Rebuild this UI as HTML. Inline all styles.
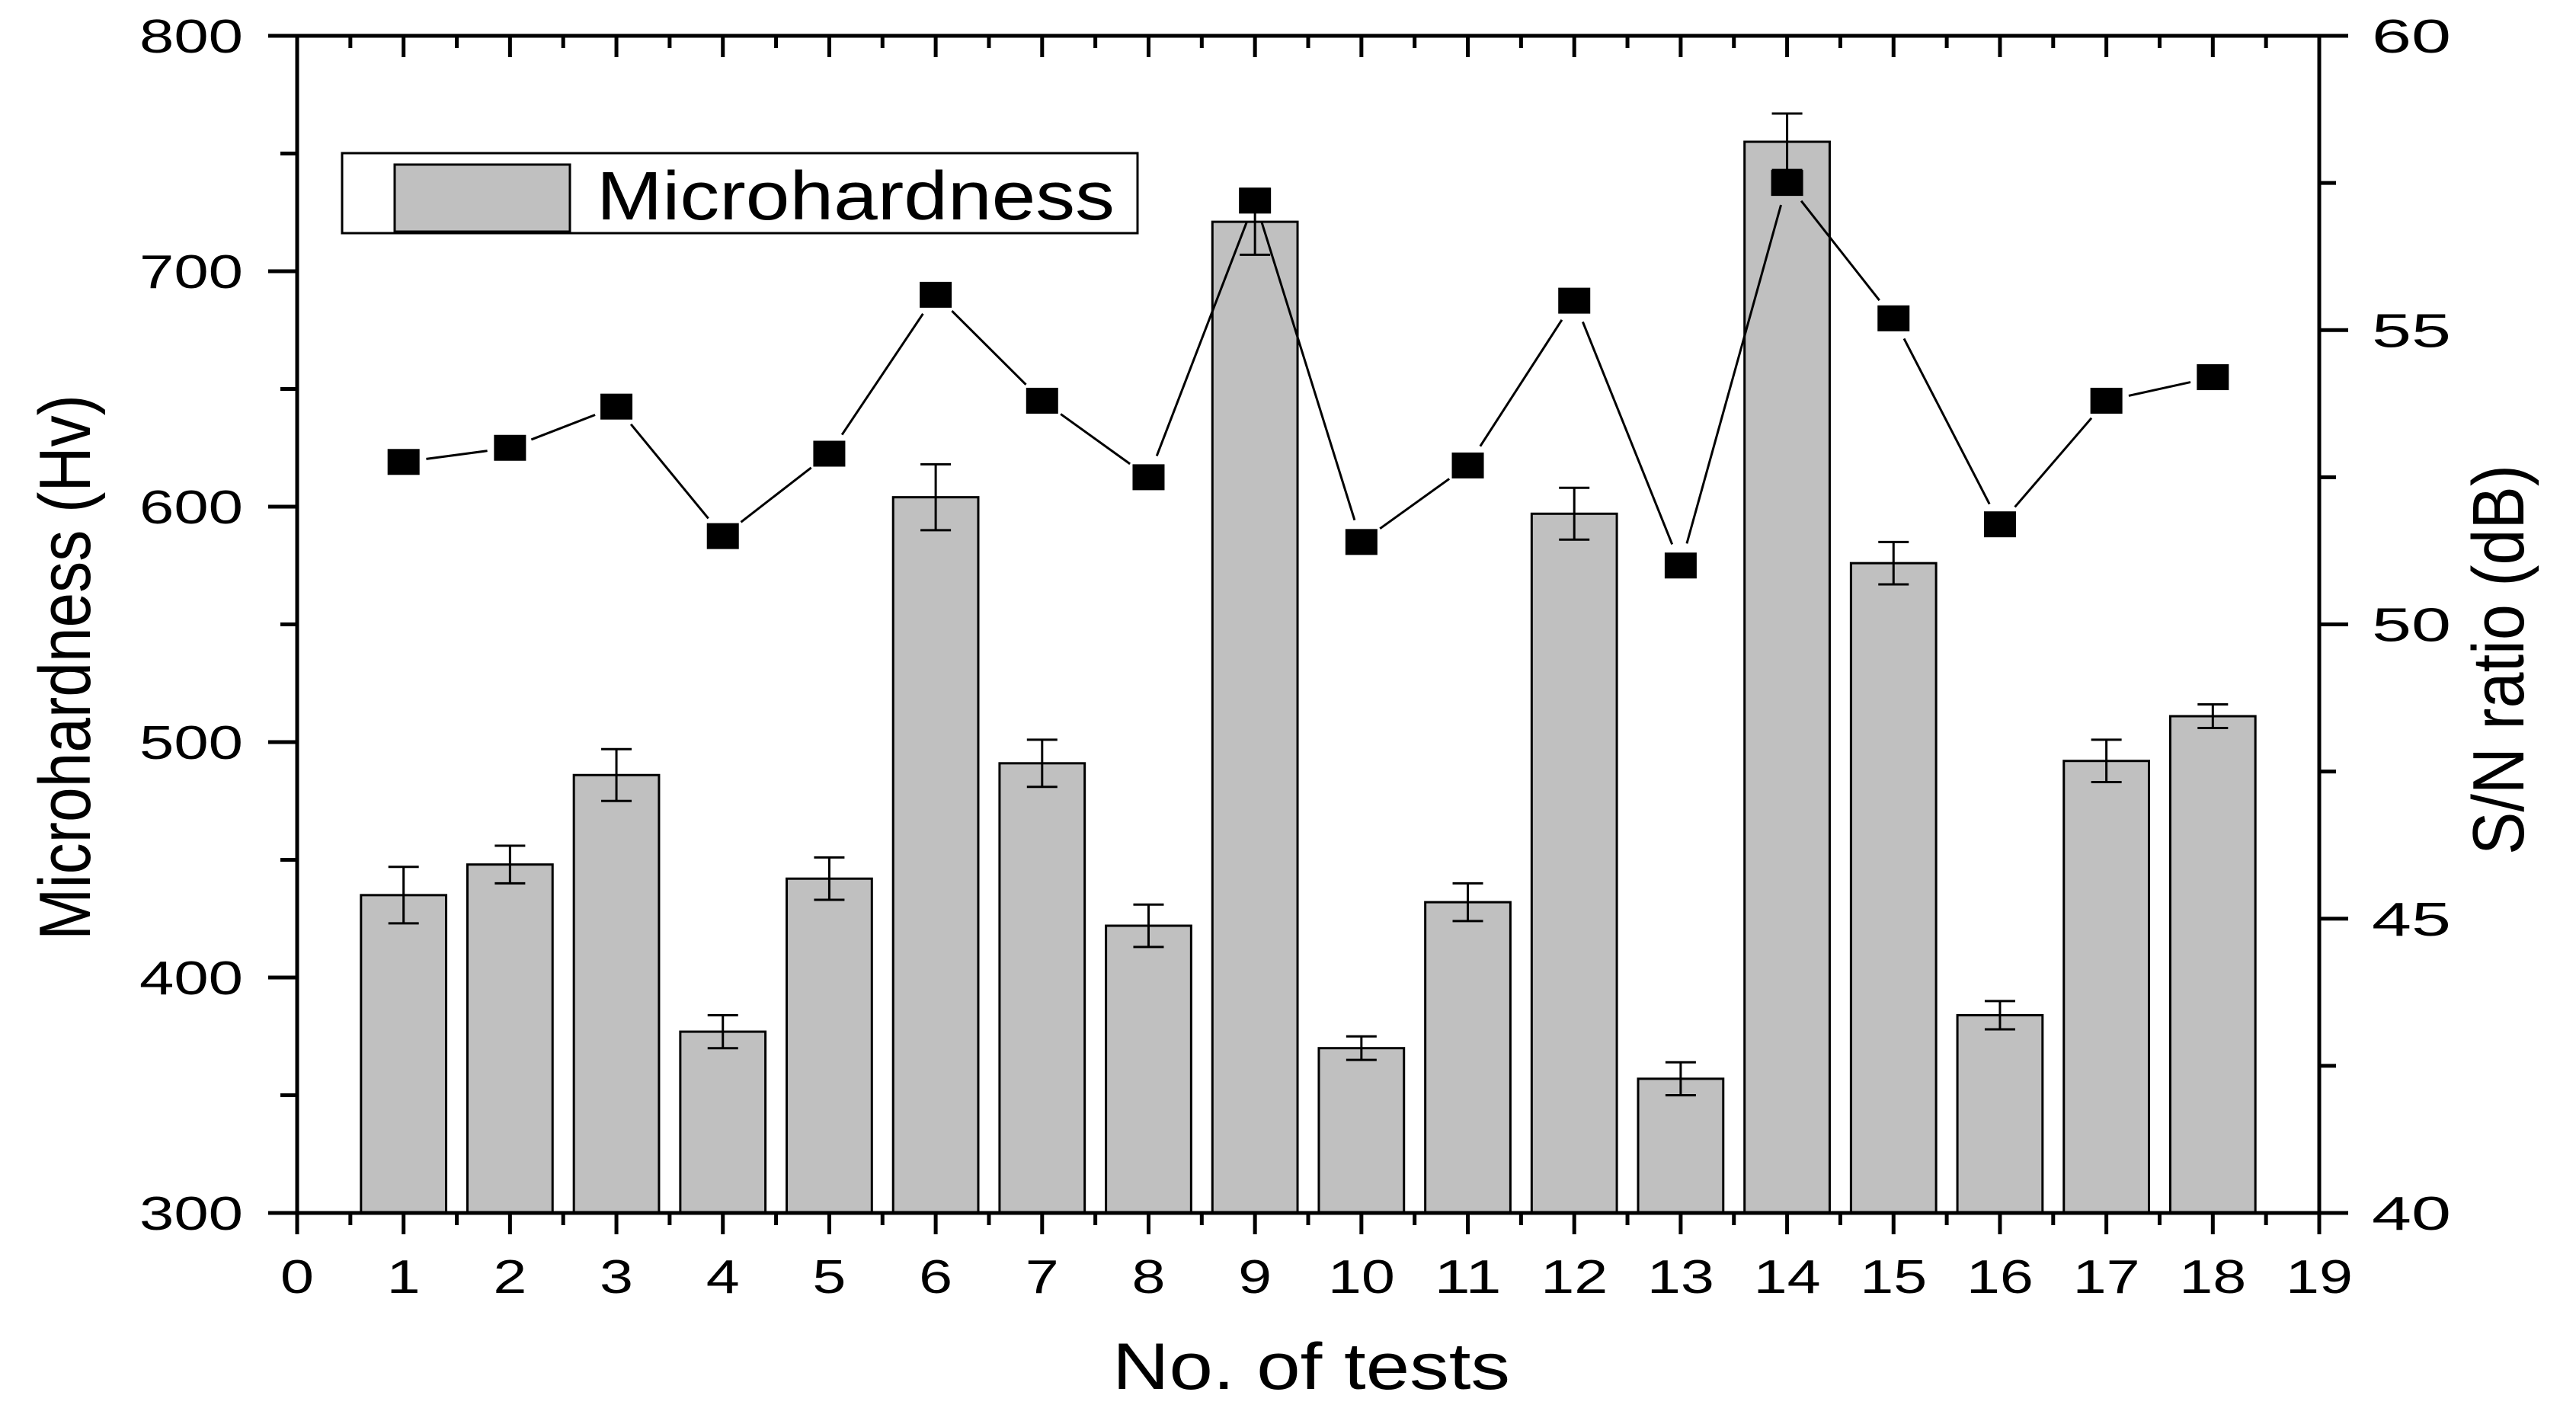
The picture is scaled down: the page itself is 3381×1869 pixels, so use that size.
<!DOCTYPE html>
<html><head><meta charset="utf-8"><style>
html,body{margin:0;padding:0;background:#fff;}
svg{display:block;font-family:"Liberation Sans",Arial,sans-serif;}
</style></head><body>
<svg id="chart" width="3381" height="1869" viewBox="0 0 3381 1869" xmlns="http://www.w3.org/2000/svg">
<g id="bars"></g>
<g id="errs"></g>
<g id="line"></g>
<g id="axes"></g>
<g>
<rect x="449" y="201" width="1044" height="105" fill="#fff" stroke="#000" stroke-width="3"/>
<rect x="518" y="216" width="230" height="88" fill="#c0c0c0" stroke="#000" stroke-width="3"/>
<text x="783" y="288" font-size="90" textLength="680" lengthAdjust="spacingAndGlyphs">Microhardness</text>
</g>
<text x="1460" y="1823" font-size="86" textLength="522" lengthAdjust="spacingAndGlyphs">No. of tests</text>
<text transform="translate(118,876) rotate(-90)" font-size="96" text-anchor="middle" textLength="716" lengthAdjust="spacingAndGlyphs">Microhardness (Hv)</text>
<text transform="translate(3312,866) rotate(-90)" font-size="96" text-anchor="middle" textLength="512" lengthAdjust="spacingAndGlyphs">S/N ratio (dB)</text>
</svg>
<script>
const tests=[1,2,3,4,5,6,7,8,9,10,11,12,13,14,15,16,17,18];
const hardness=[435,448,486,377,442,604,491,422,721,370,432,597,357,755,576,384,492,511];
const hardErr=[12,8,11,7,9,14,10,9,14,5,8,11,7,12,9,6,9,5];
const snRatio=[52.76,53.0,53.7,51.5,52.9,55.6,53.8,52.5,57.2,51.4,52.7,55.5,51.0,57.5,55.2,51.7,53.8,54.2];
const xTicks=[0,1,2,3,4,5,6,7,8,9,10,11,12,13,14,15,16,17,18,19];
const yTicks=[300,400,500,600,700,800];
const y2Ticks=[40,45,50,55,60];
const NS="http://www.w3.org/2000/svg";
const X0=390,X1=3044,YT=47,YB=1592;
const xs=v=>X0+(v-0)/19*(X1-X0);
const ys=v=>YB-(v-300)/500*(YB-YT);
const ys2=v=>YB-(v-40)/20*(YB-YT);
function mk(tag,attrs,parent){const e=document.createElementNS(NS,tag);for(const k in attrs)e.setAttribute(k,attrs[k]);parent.appendChild(e);return e;}
const gb=document.getElementById('bars'),ge=document.getElementById('errs'),gl=document.getElementById('line'),ga=document.getElementById('axes');
const bw=(X1-X0)/19*0.8;
tests.forEach((t,i)=>{
 const r=mk('rect',{x:xs(t)-bw/2,y:ys(hardness[i]),width:bw,height:YB-ys(hardness[i]),fill:'#c0c0c0',stroke:'#000','stroke-width':3},gb);
 
 
 const cx=xs(t),yh=ys(hardness[i]+hardErr[i]),yl=ys(hardness[i]-hardErr[i]);
 const p=mk('path',{d:`M${cx-20},${yh}H${cx+20}M${cx},${yh}V${yl}M${cx-20},${yl}H${cx+20}`,stroke:'#000','stroke-width':3,fill:'none'},ge);
 
 
});
for(let i=0;i<tests.length-1;i++){
 const x1=xs(tests[i]),y1=ys2(snRatio[i]),x2=xs(tests[i+1]),y2=ys2(snRatio[i+1]);
 const dx=x2-x1,dy=y2-y1,L=Math.hypot(dx,dy),g=30;
 if(L>2*g){const l=mk('line',{x1:x1+dx/L*g,y1:y1+dy/L*g,x2:x2-dx/L*g,y2:y2-dy/L*g,stroke:'#000','stroke-width':3},gl);
 
 }
}
tests.forEach((t,i)=>{
 const m=mk('rect',{x:xs(t)-21,y:ys2(snRatio[i])-17,width:42,height:34,fill:'#000'},gl);
 
 
});
const fr=mk('rect',{x:X0,y:YT,width:X1-X0,height:YB-YT,fill:'none',stroke:'#000','stroke-width':5},ga);


let d='';
for(let v=0;v<=19;v+=0.5){const x=xs(v);const maj=Number.isInteger(v);d+=`M${x},${YB}v${maj?28:16}M${x},${YT}v${maj?28:16}`;}
for(let v=300;v<=800;v+=50){const y=ys(v);d+=`M${X0},${y}h${v%100===0?-38:-22}`;}
for(let v=40;v<=60;v+=2.5){const y=ys2(v);d+=`M${X1},${y}h${v%5===0?38:22}`;}
const tk=mk('path',{d:d,stroke:'#000','stroke-width':5,fill:'none'},ga);


xTicks.forEach(v=>{const s=String(v);const t=mk('text',{x:xs(v),y:1697,'font-size':62,'text-anchor':'middle',textLength:s.length*44,lengthAdjust:'spacingAndGlyphs'},ga);t.textContent=s;
 
 });
yTicks.forEach(v=>{const t=mk('text',{x:319,y:ys(v)+22,'font-size':62,'text-anchor':'end',textLength:136,lengthAdjust:'spacingAndGlyphs'},ga);t.textContent=v;
 
 });
y2Ticks.forEach(v=>{const t=mk('text',{x:3113,y:ys2(v)+22,'font-size':62,textLength:104,lengthAdjust:'spacingAndGlyphs'},ga);t.textContent=v;
 
 });
</script>
</body></html>
